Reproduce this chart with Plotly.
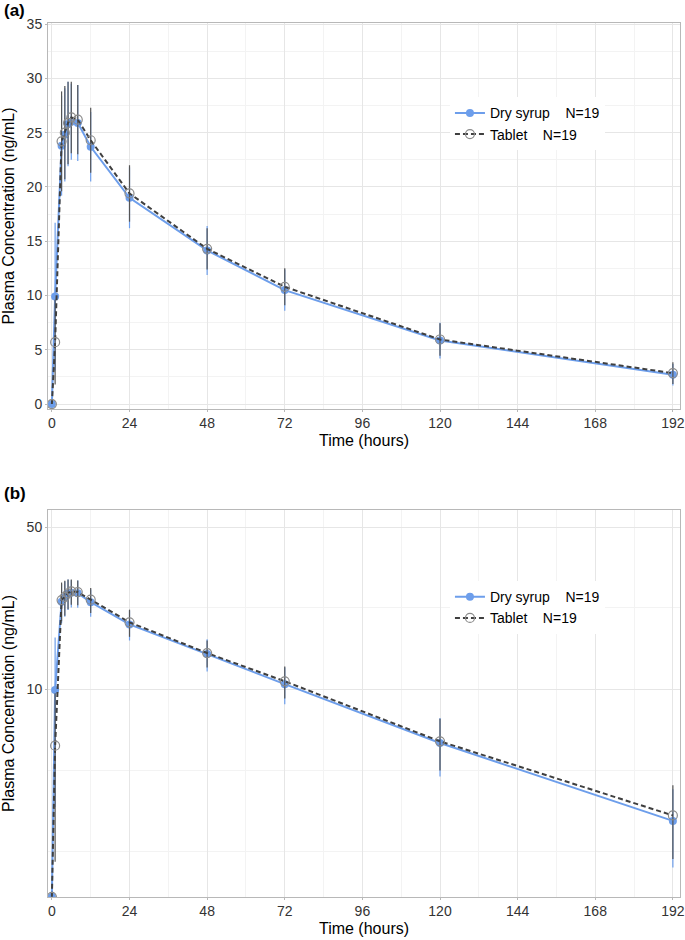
import numpy as np
import plotly.graph_objects as go
from plotly.subplots import make_subplots

# sampling times (hours)
times = [0, 1, 3, 4, 5, 6, 8, 12, 24, 48, 72, 120, 192]

# mean and SD plasma concentration (ng/mL)
syrup_mean = [0, 9.9, 23.8, 24.8, 25.8, 26.0, 25.9, 23.7, 19.0, 14.15, 10.5, 5.85, 2.7]
syrup_sd = [0, 6.8, 4.6, 4.3, 3.9, 3.5, 3.5, 3.2, 2.8, 2.25, 1.9, 1.65, 1.0]
tablet_mean = [0, 5.7, 24.2, 25.0, 25.9, 26.4, 26.2, 24.3, 19.4, 14.3, 10.8, 5.95, 2.85]
tablet_sd = [0, 3.9, 4.6, 4.3, 3.8, 3.3, 3.2, 3.0, 2.6, 1.9, 1.7, 1.5, 1.0]

syrup_name = "Dry syrup\u00a0\u00a0\u00a0\u00a0N=19"
tablet_name = "Tablet\u00a0\u00a0\u00a0\u00a0N=19"

x_ticks = [0, 24, 48, 72, 96, 120, 144, 168, 192]
lin_ticks = [0, 5, 10, 15, 20, 25, 30, 35]
log_ticks = [10, 50]
log_minor = [2, 4.47, 22.4]

# zero concentrations cannot be shown on a log axis -> pinned to the axis floor
LOG_FLOOR = 1.27

BLUE = "#6d9eeb"
DARK = "#3f3f3f"
GREY = "#8a8a8a"
FONT = "Liberation Sans, Arial, sans-serif"

fig = make_subplots(rows=2, cols=1, vertical_spacing=0.0)

for row, legend in [(1, "legend"), (2, "legend2")]:
    if row == 1:
        ys, yt = syrup_mean, tablet_mean
    else:
        ys = [v if v > 0 else LOG_FLOOR for v in syrup_mean]
        yt = [v if v > 0 else LOG_FLOOR for v in tablet_mean]
    fig.add_trace(go.Scatter(
        x=times, y=ys, name=syrup_name, legend=legend,
        mode="lines+markers",
        line=dict(color=BLUE, width=2),
        marker=dict(color=BLUE, size=8, symbol="circle"),
        error_y=dict(type="data", array=syrup_sd, color=BLUE, thickness=1.2, width=0),
    ), row=row, col=1)
    fig.add_trace(go.Scatter(
        x=times, y=yt, name=tablet_name, legend=legend,
        mode="lines+markers",
        line=dict(color=DARK, width=2, dash="5px,3px"),
        marker=dict(color="rgba(0,0,0,0)", size=9, symbol="circle",
                    line=dict(color=GREY, width=1.2)),
        error_y=dict(type="data", array=tablet_sd, color="#555555", thickness=1.2, width=0),
    ), row=row, col=1)

axis_style = dict(
    showline=True, linecolor="#b8b8b8", linewidth=1, mirror=True,
    gridcolor="#e6e6e6", gridwidth=1,
    ticks="outside", ticklen=2, tickcolor="#b8b8b8",
    tickfont=dict(size=14, color="#333333", family=FONT),
    zeroline=False, automargin=False,
)
minor_style = dict(showgrid=True, gridcolor="#f3f3f3", gridwidth=1, ticks="")
title_font = dict(size=16, color="black", family=FONT)

for row in [1, 2]:
    fig.update_xaxes(
        range=[-1.2, 194.2], tickvals=x_ticks,
        minor=dict(dtick=12, tick0=0, **minor_style),
        ticklabelstandoff=-1,
        title=dict(text="Time (hours)", font=title_font, standoff=5),
        **axis_style, row=row, col=1)

fig.update_yaxes(
    range=[-0.45, 35.1], tickvals=lin_ticks,
    minor=dict(dtick=2.5, tick0=0, **minor_style),
    title=dict(text="Plasma Concentration (ng/mL)", font=title_font, standoff=11),
    **axis_style, row=1, col=1)
fig.update_yaxes(
    type="log", range=[np.log10(1.268), np.log10(59.2)], tickvals=log_ticks,
    minor=dict(tickmode="array", tickvals=log_minor, **minor_style),
    title=dict(text="Plasma Concentration (ng/mL)", font=title_font, standoff=11),
    **axis_style, row=2, col=1)

fig.update_layout(
    width=685, height=940,
    margin=dict(l=48, r=5, t=23, b=43, autoexpand=False),
    plot_bgcolor="white", paper_bgcolor="white",
    font=dict(family=FONT, size=14, color="black"),
    xaxis=dict(domain=[0, 1]), xaxis2=dict(domain=[0, 1]),
    yaxis=dict(domain=[0.5584, 1.0]),
    yaxis2=dict(domain=[0.0, 0.4428]),
    legend=dict(x=0.636, y=0.915, xref="paper", yref="paper", xanchor="left", yanchor="top",
                bgcolor="white", font=dict(size=14, color="black", family=FONT),
                itemwidth=30, tracegroupgap=0),
    legend2=dict(x=0.636, y=0.3614, xref="paper", yref="paper", xanchor="left", yanchor="top",
                 bgcolor="white", font=dict(size=14, color="black", family=FONT),
                 itemwidth=30, tracegroupgap=0),
    annotations=[
        dict(text="<b>(a)</b>", x=0, y=1.0, xref="paper", yref="paper", xanchor="left",
             yanchor="bottom", xshift=-46, yshift=1, showarrow=False,
             font=dict(size=17, color="black", family=FONT)),
        dict(text="<b>(b)</b>", x=0, y=0.4428, xref="paper", yref="paper", xanchor="left",
             yanchor="bottom", xshift=-46, yshift=5, showarrow=False,
             font=dict(size=17, color="black", family=FONT)),
    ],
)

# drop the default 8px page margin so the figure fills the window exactly
fig.write_html("out.html", config={"displayModeBar": False},
               post_script="document.body.style.margin='0';")
